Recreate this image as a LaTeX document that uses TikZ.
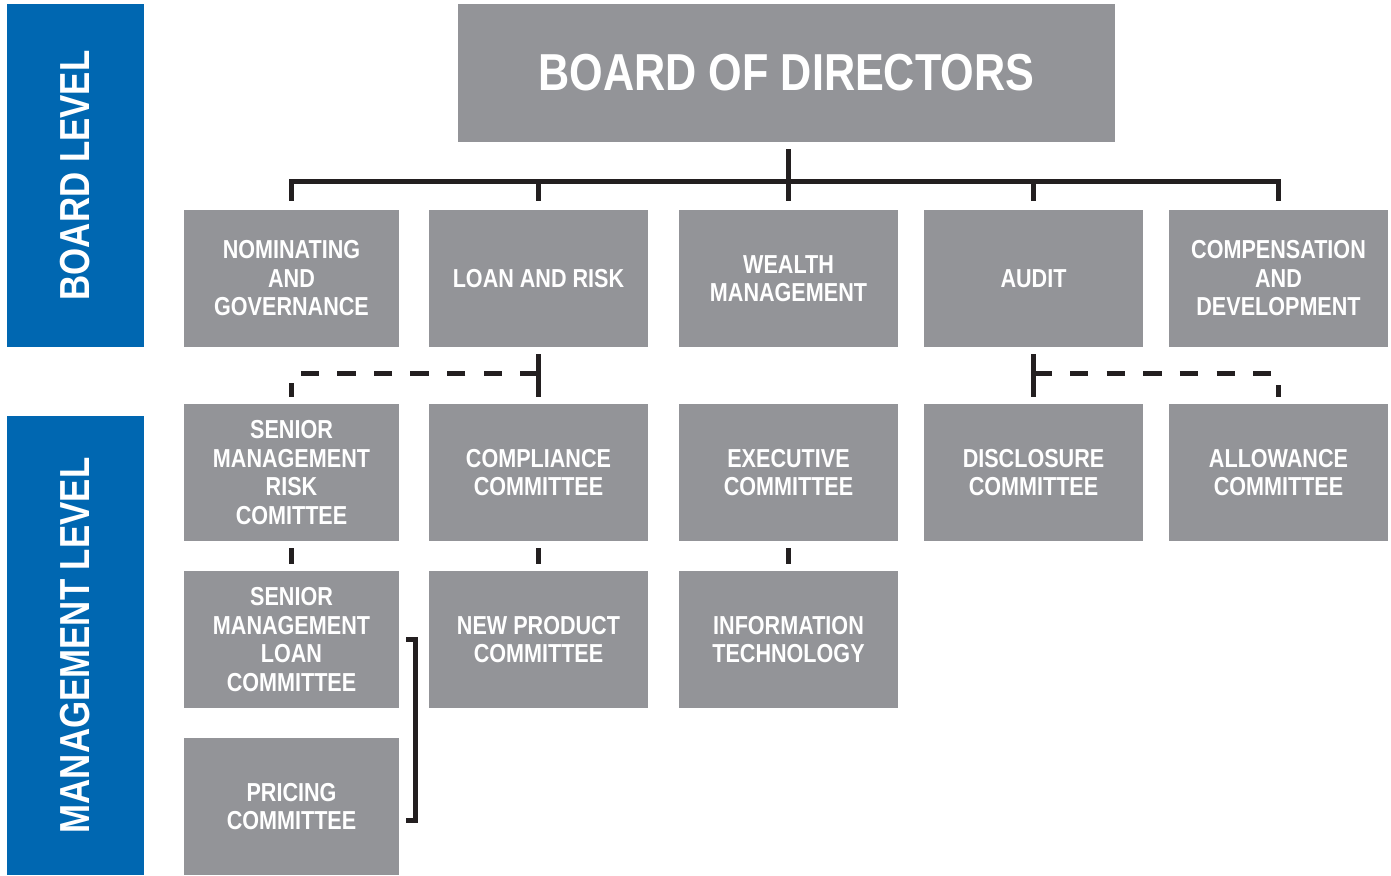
\documentclass[tikz,border=0pt]{standalone}
\usepackage{fontspec}
\setmainfont{Liberation Sans}[FakeStretch=0.83]
\usepackage{xcolor}
\usetikzlibrary{positioning, calc}
\definecolor{levelBlue}{RGB}{0,103,177}
\definecolor{boxGray}{RGB}{147,148,152}
\definecolor{lineDark}{RGB}{35,31,32}
\tikzset{
    levelbar/.style={
        rectangle,
        fill=levelBlue,
        text=white,
        rotate=90,
        inner sep=0pt,
        minimum height=137pt,
        font=\fontsize{42}{42}\selectfont\bfseries
    },
    boardbox/.style={
        rectangle,
        fill=boxGray,
        text=white,
        inner sep=0pt,
        minimum width=657pt,
        minimum height=138pt,
        font=\fontsize{52}{52}\selectfont\bfseries
    },
    orgbox/.style={
        rectangle,
        fill=boxGray,
        text=white,
        align=center,
        inner sep=0pt,
        minimum width=219pt,
        minimum height=137pt,
        font=\fontsize{26}{28.5}\selectfont\bfseries
    },
    solidlink/.style={draw=lineDark, line width=5pt},
    dashlink/.style={draw=lineDark, line width=5pt, dash pattern=on 18.3pt off 18.3pt}
}

\begin{document}
\begin{tikzpicture}[x=1pt,y=-1pt]
    \useasboundingbox (0,0) rectangle (1391,875);

    % level bands on the left
    \node[levelbar, minimum width=343pt] (boardlvl) at (75.5,175.5) {BOARD LEVEL};
    \node[levelbar, minimum width=459pt] (mgmtlvl) at (75.5,645.5) {MANAGEMENT LEVEL};

    \node[boardbox] (board) at (786.5,73) {BOARD OF DIRECTORS};

    % board committees
    \foreach \x/\w/\nm/\txt in {291.5/215/nom/{NOMINATING\\AND\\GOVERNANCE},
                                538.5/219/loan/{LOAN AND RISK},
                                788.5/219/wealth/{WEALTH\\MANAGEMENT},
                                1033.5/219/audit/{AUDIT},
                                1278.5/219/comp/{COMPENSATION\\AND\\DEVELOPMENT}} {
        \node[orgbox, minimum width=\w pt] (\nm) at (\x,278.5) {\txt};
    }

    % management committees
    \foreach \x/\w/\nm/\txt in {291.5/215/senrisk/{SENIOR\\MANAGEMENT\\RISK\\COMITTEE},
                                538.5/219/compl/{COMPLIANCE\\COMMITTEE},
                                788.5/219/exec/{EXECUTIVE\\COMMITTEE},
                                1033.5/219/discl/{DISCLOSURE\\COMMITTEE},
                                1278.5/219/allow/{ALLOWANCE\\COMMITTEE}} {
        \node[orgbox, minimum width=\w pt] (\nm) at (\x,472.5) {\txt};
    }

    \node[orgbox, minimum width=215pt] (senloan) at (291.5,639.5) {SENIOR\\MANAGEMENT\\LOAN\\COMMITTEE};
    \node[orgbox] (newprod) at (538.5,639.5) {NEW PRODUCT\\COMMITTEE};
    \node[orgbox] (infotech) at (788.5,639.5) {INFORMATION\\TECHNOLOGY};
    \node[orgbox, minimum width=215pt] (pricing) at (291.5,806.5) {PRICING\\COMMITTEE};

    % board tree
    \coordinate (bar) at (0,181);
    \draw[solidlink] ($(wealth.north |- board.south)+(0,7)$) -- ($(wealth.north)+(0,-9)$);
    \draw[solidlink] ($(nom.north)+(0,-9)$) |- (bar -| comp.north) -- ($(comp.north)+(0,-9)$);
    \foreach \n in {loan,audit}
        \draw[solidlink] (bar -| \n.north) -- ($(\n.north)+(0,-9)$);

    % dashed reporting lines
    \draw[solidlink] ($(loan.south)+(0,7)$) -- ($(compl.north)+(0,-7)$);
    \draw[dashlink] ($(loan.south)!0.47!(compl.north)$) -| ($(senrisk.north)+(0,-7)$);
    \draw[solidlink] ($(audit.south)+(0,7)$) -- ($(discl.north)+(0,-7)$);
    \draw[dashlink] ($(audit.south)!0.47!(discl.north)$) -| ($(allow.north)+(0,-7)$);

    % management links
    \foreach \a/\b in {senrisk/senloan, compl/newprod, exec/infotech}
        \draw[solidlink] ($(\a.south)+(0,7)$) -- ($(\b.north)+(0,-7)$);
    \draw[solidlink] ($(senloan.east)+(7,0)$) -- ++(9,0) |- ($(pricing.east)+(7,14)$);
\end{tikzpicture}
\end{document}
